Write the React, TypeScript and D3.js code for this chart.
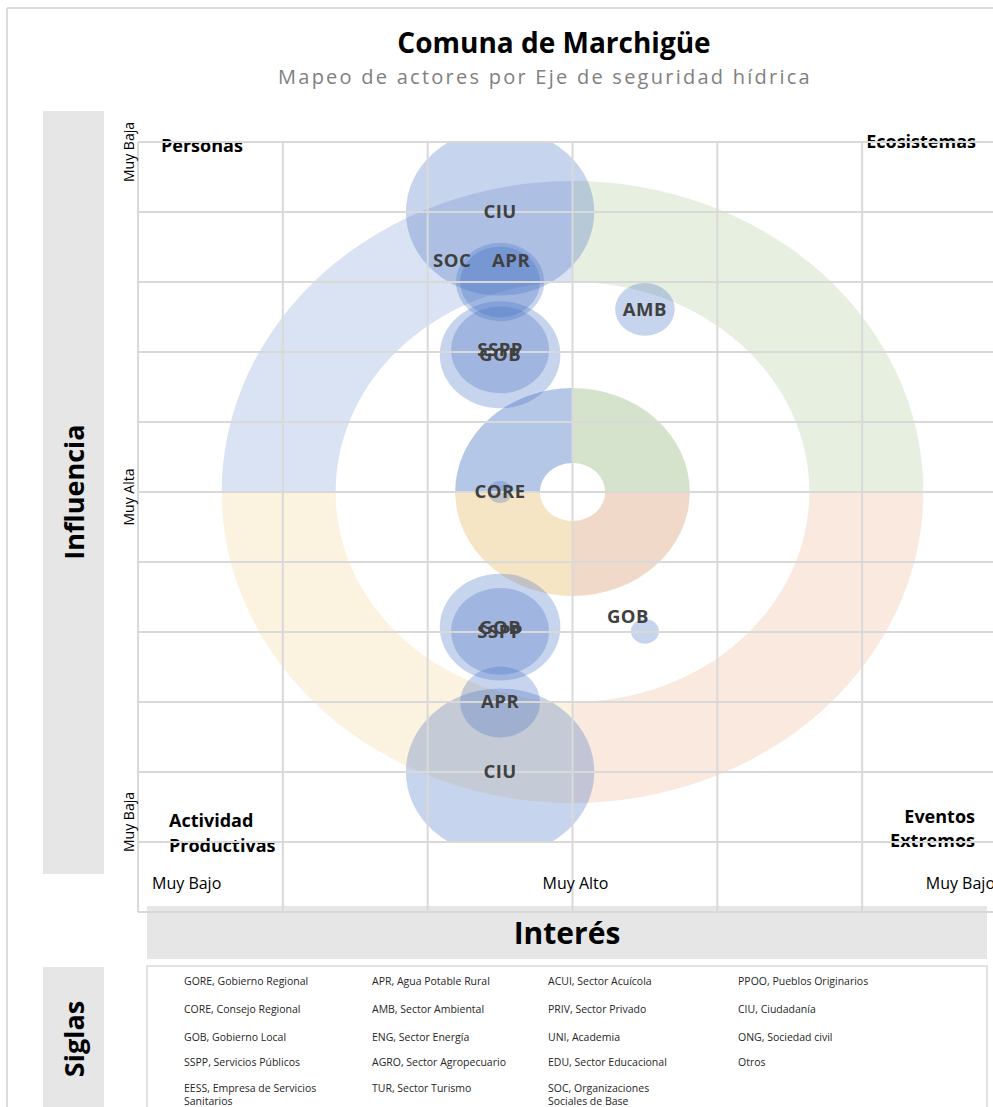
import React from "react";
import * as d3 from "d3";

const W = 993;
const H = 1107;
const FONT = "'Open Sans', 'DejaVu Sans', sans-serif";

// ejes de seguridad hidrica, clockwise from 12 o'clock
const ejes = ["Ecosistemas", "Eventos Extremos", "Actividad Productivas", "Personas"];
const ejePeso = [25, 25, 25, 25];
const ejeColorExterior = ["#e7efe0", "#f9e9df", "#fbf2df", "#dae3f3"];
const ejeColorInterior = ["#d6e3cc", "#f1d9c9", "#f6e5c5", "#b4c7e7"];

// actores (bubbles)
const actores = ["CIU", "APR", "SOC", "GOB", "SSPP", "CORE", "AMB", "GOB", "GOB", "SSPP", "APR", "CIU"];
const interes = [-0.5, -0.5, -0.5, -0.5, -0.5, -0.5, 0.5, 0.5, -0.5, -0.5, -0.5, -0.5];
const influencia = [4, 3, 3, 1.96, 2.03, 0, 2.61, -1.99, -1.93, -1.99, -3, -4];
const tamano = [100, 22, 18, 41, 27, 1.7, 10, 2.2, 41, 27, 18, 100];

// axis tick labels
const interesTicks = [-3, 0, 3];
const interesLabels = ["Muy Bajo", "Muy Alto", "Muy Bajo"];
const influenciaTicks = [5, 0, -5];
const influenciaLabels = ["Muy Baja", "Muy Alta", "Muy Baja"];

// siglas, column by column
const siglasCol1 = ["GORE, Gobierno Regional", "CORE, Consejo Regional", "GOB, Gobierno Local", "SSPP, Servicios Públicos", "EESS, Empresa de Servicios|Sanitarios"];
const siglasCol2 = ["APR, Agua Potable Rural", "AMB, Sector Ambiental", "ENG, Sector Energía", "AGRO, Sector Agropecuario", "TUR, Sector Turismo"];
const siglasCol3 = ["ACUI, Sector Acuícola", "PRIV, Sector Privado", "UNI, Academia", "EDU, Sector Educacional", "SOC, Organizaciones|Sociales de Base"];
const siglasCol4 = ["PPOO, Pueblos Originarios", "CIU, Ciudadanía", "ONG, Sociedad civil", "Otros"];

export default function App() {
  const x = d3.scaleLinear().domain([-3, 3]).range([138, 1007]);
  const y = d3.scaleLinear().domain([-6, 5]).range([912, 142]);
  const aspect = 1.128; // the Excel plot is stretched horizontally
  const r = d3.scaleSqrt().domain([0, 100]).range([0, 83.5]);

  const cx = x(0);
  const cy = y(0);
  const pie = d3.pie<number>().sort(null).startAngle(0).endAngle(2 * Math.PI);
  const quads = pie(ejePeso);
  const arcOuter = d3.arc<any>().innerRadius(210).outerRadius(311);
  const arcInner = d3.arc<any>().innerRadius(29).outerRadius(104);

  const labelNudge: Record<number, [number, number]> = { 1: [11, -21], 2: [-48, -21], 7: [-17, -15] };

  const xGrid = d3.range(-3, 4);
  const yGrid = d3.range(-6, 6);

  const legendCols = [siglasCol1, siglasCol2, siglasCol3, siglasCol4];
  const legendX = [184, 372, 548, 738];
  const legendY = [985, 1013, 1041, 1066, 1092];

  return (
    <svg width={W} height={H} style={{ position: "absolute", left: 0, top: 0, background: "#fff" }} fontFamily={FONT}>
      <defs>
        <clipPath id="plotClip">
          <rect x={x(-3)} y={y(5)} width={x(3) - x(-3)} height={y(-5) - y(5)} />
        </clipPath>
      </defs>

      {/* outer frame */}
      <line x1={7} x2={W} y1={8} y2={8} stroke="#d0d0d0" strokeWidth={1.5} />
      <line x1={7} x2={7} y1={8} y2={H} stroke="#d0d0d0" strokeWidth={1.5} />

      {/* titles */}
      <text x={554} y={53} textAnchor="middle" fontSize={28} fontWeight="bold" fill="#000">Comuna de Marchigüe</text>
      <text x={545} y={84} textAnchor="middle" fontSize={20} letterSpacing={2.25} fill="#7f7f7f">Mapeo de actores por Eje de seguridad hídrica</text>

      {/* axis title boxes */}
      <rect x={43} y={111} width={61} height={763} fill="#e6e6e6" />
      <text transform={`translate(84,${cy}) rotate(-90)`} textAnchor="middle" fontSize={27} fontWeight="bold" fill="#000">Influencia</text>
      <rect x={147} y={906} width={840} height={53} fill="#e6e6e6" />
      <text x={567} y={944} textAnchor="middle" fontSize={30} fontWeight="bold" fill="#000">Interés</text>
      <rect x={43} y={967} width={61} height={150} fill="#e6e6e6" />
      <text transform="translate(84,1039) rotate(-90)" textAnchor="middle" fontSize={27} fontWeight="bold" fill="#000">Siglas</text>

      {/* rings by eje */}
      <g transform={`translate(${cx},${cy}) scale(${aspect},1)`}>
        {quads.map((q, i) => (
          <path key={"o" + i} d={arcOuter(q) as string} fill={ejeColorExterior[i]} />
        ))}
        {quads.map((q, i) => (
          <path key={"i" + i} d={arcInner(q) as string} fill={ejeColorInterior[i]} />
        ))}
      </g>

      {/* bubbles */}
      <g clipPath="url(#plotClip)">
        {actores.map((a, i) => (
          <ellipse
            key={i}
            cx={x(interes[i])}
            cy={y(influencia[i])}
            rx={r(tamano[i]) * aspect}
            ry={r(tamano[i])}
            fill="#4472c4"
            fillOpacity={0.3}
          />
        ))}
      </g>

      {/* eje labels in corners */}
      <g fontSize={18} fontWeight="bold" fill="#000">
        <text x={x(-3) + 23} y={y(5) + 10}>{ejes[3]}</text>
        <text x={x(3) - 31} y={y(5) + 6} textAnchor="end">{ejes[0]}</text>
        <text x={x(-3) + 31} y={y(-5) - 15}>{ejes[2].split(" ")[0]}</text>
        <text x={x(-3) + 31} y={y(-5) + 10}>{ejes[2].split(" ")[1]}</text>
        <text x={x(3) - 32} y={y(-5) - 19} textAnchor="end">{ejes[1].split(" ")[0]}</text>
        <text x={x(3) - 32} y={y(-5) + 5} textAnchor="end">{ejes[1].split(" ")[1]}</text>
      </g>

      {/* grid */}
      <g stroke="#d9d9d9" strokeWidth={2}>
        {yGrid.map((v) => (
          <line key={"h" + v} x1={x(-3)} x2={x(3)} y1={y(v)} y2={y(v)} />
        ))}
        {xGrid.map((v) => (
          <line key={"v" + v} x1={x(v)} x2={x(v)} y1={y(5)} y2={y(-6)} />
        ))}
      </g>

      {/* bubble labels */}
      <g fontSize={18.5} fontWeight="bold" fill="#404040" textAnchor="middle">
        {actores.map((a, i) => {
          const n = labelNudge[i] || [0, 0];
          return (
            <text key={i} x={x(interes[i]) + n[0]} y={y(influencia[i]) + n[1]} dy="0.35em" letterSpacing={0.5}>
              {a}
            </text>
          );
        })}
      </g>

      {/* axis tick labels */}
      <g fontSize={16} fill="#000">
        {interesTicks.map((t, i) => (
          <text
            key={i}
            x={x(t) + [14, 3, -12][i]}
            y={889}
            textAnchor={["start", "middle", "end"][i]}
          >
            {interesLabels[i]}
          </text>
        ))}
      </g>
      <g fontSize={14} fill="#000">
        {influenciaTicks.map((t, i) => (
          <text
            key={i}
            transform={`translate(134,${y(t) + [10, 5, -20][i]}) rotate(-90)`}
            textAnchor="middle"
          >
            {influenciaLabels[i]}
          </text>
        ))}
      </g>

      {/* siglas legend */}
      <rect x={147} y={966} width={840} height={160} fill="#fff" stroke="#d9d9d9" strokeWidth={1.5} />
      <g fontSize={10.5} fill="#262626">
        {legendCols.map((col, c) =>
          col.map((s, k) => (
            <text key={c + "-" + k} x={legendX[c]} y={legendY[k]}>
              {s.split("|").map((line, j) => (
                <tspan key={j} x={legendX[c]} dy={j === 0 ? 0 : 13}>
                  {line}
                </tspan>
              ))}
            </text>
          ))
        )}
      </g>
    </svg>
  );
}
